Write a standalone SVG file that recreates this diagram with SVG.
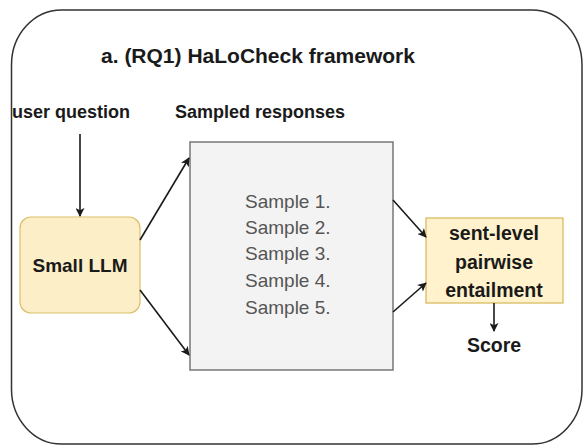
<svg xmlns="http://www.w3.org/2000/svg" width="583" height="446" viewBox="0 0 583 446">
<style>
.b{font-family:"Liberation Sans",Arial,sans-serif;font-weight:bold;fill:#1a1a1a;text-anchor:middle}
.s{font-family:"Liberation Sans",Arial,sans-serif;font-size:19px;fill:#555;text-anchor:start}
.c{stroke:#1a1a1a;stroke-width:1.6;fill:none;marker-end:url(#ah)}
</style>
<defs>
<marker id="ah" viewBox="0 0 10 10" refX="9" refY="5" markerWidth="9" markerHeight="9" markerUnits="userSpaceOnUse" orient="auto">
<path d="M0,0 L10,5 L0,10 L2.5,5 Z" fill="#1a1a1a"/>
</marker>
</defs>
<rect width="583" height="446" fill="#fff"/>
<g id="frame">
<rect x="11.5" y="10" width="570.5" height="434" rx="50" ry="55" fill="#fff" stroke="#333" stroke-width="1.5"/>
<text class="b" x="258" y="63" font-size="21">a. (RQ1) HaLoCheck framework</text>
</g>
<g id="user-question"><text class="b" x="71" y="118" font-size="18">user question</text></g>
<g id="sampled-label"><text class="b" x="260" y="118" font-size="18">Sampled responses</text></g>
<g id="small-llm">
<rect x="20" y="217" width="120" height="96" rx="11" fill="#fcefc7" stroke="#d9bf6a" stroke-width="1.2"/>
<text class="b" x="80" y="272" font-size="19">Small LLM</text>
</g>
<g id="samples">
<rect x="190" y="142" width="203" height="228" fill="#f3f3f3" stroke="#777" stroke-width="1.5"/>
<text class="s" x="245" y="208">Sample 1.</text>
<text class="s" x="245" y="234">Sample 2.</text>
<text class="s" x="245" y="260">Sample 3.</text>
<text class="s" x="245" y="287">Sample 4.</text>
<text class="s" x="245" y="314">Sample 5.</text>
</g>
<g id="entailment">
<rect x="426" y="218" width="137" height="85" fill="#fff2cc" stroke="#d6b656" stroke-width="1.2"/>
<text class="b" x="494" y="240" font-size="19.5">sent-level</text>
<text class="b" x="494" y="268.5" font-size="19.5">pairwise</text>
<text class="b" x="494" y="297" font-size="19.5">entailment</text>
</g>
<g id="score"><text class="b" x="494" y="352" font-size="19.5">Score</text></g>
<g id="connectors">
<line class="c" x1="80" y1="134" x2="80" y2="216"/>
<line class="c" x1="140" y1="240" x2="189" y2="158"/>
<line class="c" x1="140" y1="290" x2="189" y2="355"/>
<line class="c" x1="393" y1="200" x2="426" y2="237"/>
<line class="c" x1="393" y1="312" x2="426" y2="283"/>
<line class="c" x1="494" y1="303" x2="494" y2="331"/>
</g>
</svg>
